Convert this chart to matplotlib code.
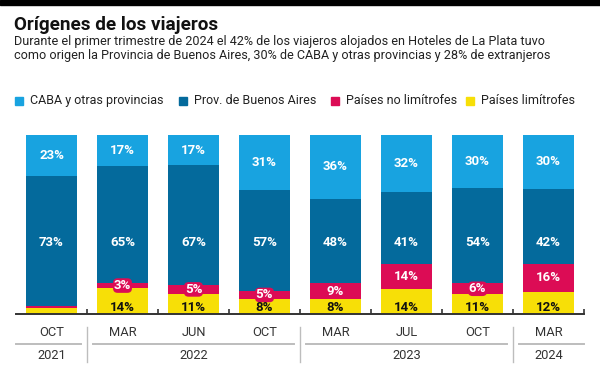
import matplotlib
matplotlib.use("Agg")
import matplotlib.pyplot as plt
from matplotlib.patches import Rectangle
from matplotlib.lines import Line2D
import matplotlib.transforms as mtransforms
import numpy as np

# ---- data ----
months = ["OCT", "MAR", "JUN", "OCT", "MAR", "JUL", "OCT", "MAR"]
years = ["2021", "2022", "2023", "2024"]
year_groups = [(0, 0), (1, 3), (4, 6), (7, 7)]
series_names = ["CABA y otras provincias", "Prov. de Buenos Aires",
                "Países no limítrofes", "Países limítrofes"]
caba = [23, 17, 17, 31, 36, 32, 30, 30]
prov = [73, 65, 67, 57, 48, 41, 54, 42]
no_limit = [1, 3, 5, 5, 9, 14, 6, 16]
limit = [3, 14, 11, 8, 8, 14, 11, 12]
show_label = [[True] * 8, [True] * 8,
              [False, True, True, True, True, True, True, True],
              [False, True, True, True, True, True, True, True]]

colors = ["#18a3e0", "#046a9c", "#dc0c55", "#f7df07"]
FONT = "Roboto"

W, H = 600, 365
fig = plt.figure(figsize=(W / 100, H / 100), dpi=100)
fig.patch.set_facecolor("white")

def fx(px):
    return px / W

def fy(py):
    return 1 - py / H

# top black bar
fig.patches.append(Rectangle((0, fy(4.5)), 1, 1 - fy(4.5), transform=fig.transFigure,
                             color="black", zorder=5))

fig.text(fx(14), fy(30.5), "Orígenes de los viajeros", fontsize=13.6, fontweight="bold",
         family=FONT, va="baseline", ha="left", color="#111111")
fig.text(fx(14), fy(45.5), "Durante el primer trimestre de 2024 el 42% de los viajeros alojados en Hoteles de La Plata tuvo",
         fontsize=9.05, family=FONT, va="baseline", ha="left", color="#222222")
fig.text(fx(14), fy(59.5), "como origen la Provincia de Buenos Aires, 30% de CABA y otras provincias y 28% de extranjeros",
         fontsize=9.05, family=FONT, va="baseline", ha="left", color="#222222")

# legend
leg_sq_x = [19, 183, 335, 470]
for name, c, x in zip(series_names, colors, leg_sq_x):
    fig.patches.append(Rectangle((fx(x - 4), fy(104.5)), 8 / W, 8 / H,
                                 transform=fig.transFigure, color=c))
    fig.text(fx(x + 11), fy(100.5), name, fontsize=9.0, family=FONT,
             va="center", ha="left", color="#222222")

# axes
ax = fig.add_axes([fx(16), fy(313.5), 568 / W, (313.5 - 135) / H])
n = len(months)
x = np.arange(n)
data = np.array([limit, no_limit, prov, caba], dtype=float)  # bottom -> top
totals = data.sum(axis=0)
norm = data / totals * 100
order_colors = [colors[3], colors[2], colors[1], colors[0]]
bottom = np.zeros(n)
for k in range(4):
    ax.bar(x, norm[k], 0.72, bottom=bottom, color=order_colors[k], linewidth=0, zorder=2)
    bottom += norm[k]

# labels
cum = np.cumsum(norm, axis=0)
for i in range(n):
    ax.text(i, (cum[2][i] + 100) / 2, f"{caba[i]}%", ha="center", va="center",
            color="white", fontweight="bold", fontsize=9.5, family=FONT, zorder=4)
    ax.text(i, 40, f"{prov[i]}%", ha="center", va="center",
            color="white", fontweight="bold", fontsize=9.5, family=FONT, zorder=4)
    if show_label[2][i]:
        ax.text(i, (cum[0][i] + cum[1][i]) / 2, f"{no_limit[i]}%", ha="center", va="center",
                color="white", fontweight="bold", fontsize=9.5, family=FONT, zorder=4,
                bbox=dict(boxstyle="round,pad=0.06,rounding_size=0.35", fc=colors[2], ec="none"))
    if show_label[3][i]:
        ax.text(i, 3.4, f"{limit[i]}%", ha="center", va="center",
                color="#111111", fontweight="bold", fontsize=9.5, family=FONT, zorder=5)

ax.set_xlim(-0.5, n - 0.5)
ax.set_ylim(0, 100)
for s in ["top", "left", "right"]:
    ax.spines[s].set_visible(False)
ax.spines["bottom"].set_color("#333333")
ax.spines["bottom"].set_linewidth(1.4)
ax.set_yticks([])
ax.set_xticks(np.arange(n) + 0.5)
ax.set_xticklabels([])
ax.tick_params(axis="x", direction="in", length=3.5, width=1.2, color="#333333")
ax.set_facecolor("none")

# bottom labels
trans = mtransforms.blended_transform_factory(ax.transData, fig.transFigure)
for i, m in enumerate(months):
    ax.text(i, fy(333), m, transform=trans, ha="center", va="center",
            fontsize=9.3, family=FONT, color="#333333", clip_on=False)
gap = 6 / 71
for (a, b), yr in zip(year_groups, years):
    left = a - 0.5 + (gap if a > 0 else 0)
    right = b + 0.5 - (gap if b < n - 1 else 0)
    ax.add_line(Line2D([left, right], [fy(344), fy(344)], transform=trans,
                       color="#bdbdbd", linewidth=1.4, clip_on=False))
    ax.text((a + b) / 2, fy(355.5), yr, transform=trans, ha="center", va="center",
            fontsize=9.3, family=FONT, color="#333333", clip_on=False)
for sep in [0.5, 3.5, 6.5]:
    ax.add_line(Line2D([sep, sep], [fy(327), fy(362)], transform=trans,
                       color="#bdbdbd", linewidth=1.0, clip_on=False))

fig.savefig("out.png", dpi=100, facecolor="white")
